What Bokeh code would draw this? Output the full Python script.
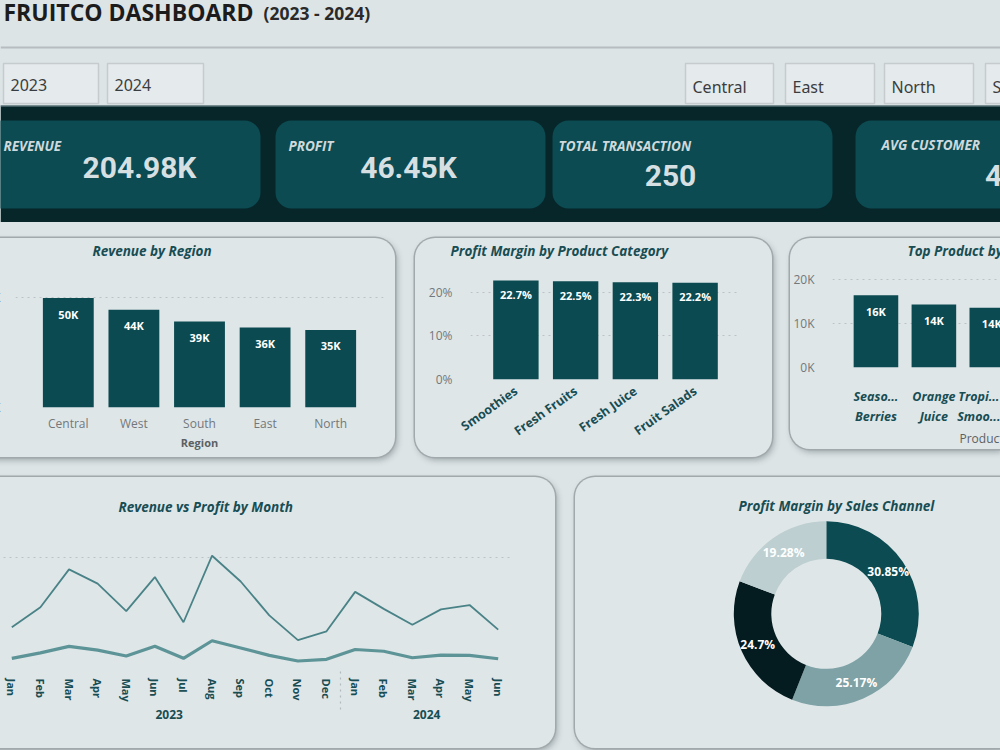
import math

from bokeh.plotting import figure
from bokeh.layouts import column, row
from bokeh.models import (ColumnDataSource, FactorRange, Range1d, FixedTicker,
                          NumeralTickFormatter, CustomJSTickFormatter, Title, Spacer)
from bokeh.core.properties import value
from bokeh.embed import file_html
from bokeh.resources import INLINE

# ---------------------------------------------------------------- data
dashboard_title = "FRUITCO DASHBOARD"
period_label = "(2023 - 2024)"
year_filters = ["2023", "2024"]
region_filters = ["Central", "East", "North", "South"]

kpi_labels = ["REVENUE", "PROFIT", "TOTAL TRANSACTION", "AVG CUSTOMER"]
kpi_values = ["204.98K", "46.45K", "250", "4.0"]

regions = ["Central", "West", "South", "East", "North"]
region_revenue = [49800, 44400, 39100, 36400, 35300]

categories = ["Smoothies", "Fresh Fruits", "Fresh Juice", "Fruit Salads"]
category_margin = [0.227, 0.225, 0.223, 0.222]

products = ["Seasonal Berries", "Orange Juice", "Tropical Smoothie"]
product_revenue = [16400, 14300, 13600]
product_ticks = ["Seaso...\nBerries", "Orange\nJuice", "Tropi...\nSmoo..."]

month_years = ["2023"] * 12 + ["2024"] * 6
month_names = ["Jan", "Feb", "Mar", "Apr", "May", "Jun", "Jul", "Aug", "Sep",
               "Oct", "Nov", "Dec", "Jan", "Feb", "Mar", "Apr", "May", "Jun"]
month_revenue = [7340, 11000, 17900, 15300, 10300, 16500, 8260, 20400, 15700,
                 9500, 5000, 6600, 13800, 10700, 7800, 10600, 11400, 6900]
month_profit = [1670, 2670, 3860, 3160, 2090, 3860, 1670, 4880, 3560,
                2210, 1190, 1500, 3280, 2970, 1780, 2260, 2210, 1600]

channel_margin = [30.85, 25.17, 24.7, 19.28]
channel_colors = ["#0b4b51", "#7ea2a5", "#041c1f", "#bdcfd1"]

# ---------------------------------------------------------------- styling
PAGE_BG = "#dde4e6"
PANEL_BG = "#dfe6e8"
BAND = "#07262a"
CARD = "#0b4b51"
BAR = "#0a4a50"
INK = "#174d53"
GRID = "#bcc3c6"
AXIS_GRAY = "#72787b"

PANEL_CSS = {
    "background-color": PANEL_BG,
    "border-radius": "20px",
    "box-shadow": "0 0 0 1.5px #a2a9ac, 2px 3px 6px rgba(35, 50, 55, 0.35)",
}

k_format = CustomJSTickFormatter(code="return (tick / 1000).toFixed(0) + 'K';")


def panel(width, height, **kw):
    p = figure(width=width, height=height, output_backend="svg",
               toolbar_location=None, **kw)
    p.frame_align = False
    p.border_fill_color = None
    p.background_fill_color = None
    p.outline_line_color = None
    p.styles = dict(PANEL_CSS)
    return p


def set_title(p, text, offset, standoff):
    p.title.text = text
    p.title.align = "left"
    p.title.offset = offset
    p.title.standoff = standoff
    p.title.text_font = "Open Sans"
    p.title.text_font_style = "bold italic"
    p.title.text_font_size = "13.5px"
    p.title.text_color = INK


def plain_axes(p):
    for ax in p.axis:
        ax.axis_line_color = None
        ax.major_tick_line_color = None
        ax.minor_tick_line_color = None
        ax.major_label_text_font = "Open Sans"
        ax.major_label_text_font_size = "12px"
        ax.major_label_text_color = AXIS_GRAY
    p.xgrid.grid_line_color = None
    p.ygrid.grid_line_color = GRID
    p.ygrid.grid_line_dash = "dotted"
    p.ygrid.grid_line_width = 1.2


def bar_labels(p, src, x, y, offset):
    p.text(x=x, y=y, text="label", source=src, y_offset=offset,
           text_align="center", text_baseline="middle", text_color="white",
           text_font=value("Open Sans"), text_font_style="bold",
           text_font_size="11px")


# ---------------------------------------------------------------- header + KPI band
H = 222


def Y(v):
    return H - v


head = figure(width=1000, height=H, x_range=Range1d(0, 1000), y_range=Range1d(0, H),
              output_backend="svg", toolbar_location=None, min_border=0,
              x_axis_location=None, y_axis_location=None)
head.frame_align = False
head.grid.visible = False
head.background_fill_color = PAGE_BG
head.border_fill_color = PAGE_BG
head.outline_line_color = None

head.text(x=[3], y=[Y(11)], text=[dashboard_title], text_font=value("Open Sans"),
          text_font_style="bold", text_font_size="23px", text_color="#1c1c1c",
          text_baseline="middle")
head.text(x=[263], y=[Y(12)], text=[period_label], text_font=value("Open Sans"),
          text_font_style="bold", text_font_size="17.5px", text_color="#2a2a2a",
          text_baseline="middle")
head.segment(x0=[0], y0=[Y(47)], x1=[1000], y1=[Y(47)], line_color="#b6bcbf", line_width=2)

# slicer buttons
box_left = [3, 107, 685, 785, 884, 985]
box_right = [98, 203, 773, 874, 973, 1074]
box_text = year_filters + region_filters
box_y = [84, 84, 86, 86, 86, 86]
head.quad(left=box_left, right=box_right, top=[Y(63)] * 6, bottom=[Y(103)] * 6,
          fill_color="#e5eaec", line_color="#c6ccce", line_width=1.5)
head.text(x=[l + 7 for l in box_left], y=[Y(v) for v in box_y], text=box_text,
          text_font=value("Noto Sans"), text_font_size="16px", text_color="#3a3d3f",
          text_baseline="middle")

# dark KPI band with cards
head.quad(left=[0], right=[1000], top=[Y(105)], bottom=[0], fill_color=BAND, line_color=None)
head.segment(x0=[0], y0=[Y(105.5)], x1=[1000], y1=[Y(105.5)], line_color="#7f9397", line_width=1)
head.quad(left=[-20, 275, 552, 855], right=[260, 545, 832, 1080],
          top=[Y(120)] * 4, bottom=[Y(208)] * 4, fill_color=CARD, line_color=None,
          border_radius=16)
head.text(x=[3, 288, 558, 881], y=[Y(145), Y(145), Y(145), Y(144)], text=kpi_labels,
          text_font=value("Open Sans"), text_font_style="bold italic",
          text_font_size="13.5px", text_color="#cfd9db", text_baseline="middle")
head.text(x=[139, 408, 670, 1006], y=[Y(167), Y(167), Y(175), Y(175)], text=kpi_values,
          text_font=value("Roboto"), text_font_style="bold", text_font_size="30px",
          text_color="#d6dfe1", text_align="center", text_baseline="middle")

# ---------------------------------------------------------------- Revenue by Region
src1 = ColumnDataSource(dict(region=regions, revenue=region_revenue,
                             label=[f"{v / 1000:.0f}K" for v in region_revenue]))
p1 = panel(425, 219,
           x_range=FactorRange(*regions, range_padding=0.305, range_padding_units="absolute"),
           y_range=Range1d(0, 66400),
           min_border_left=45, min_border_right=12, min_border_top=22, min_border_bottom=50)
p1.margin = (0, 0, 0, -30)
set_title(p1, "Revenue by Region", 77, 3)
p1.vbar(x="region", top="revenue", width=0.775, source=src1, fill_color=BAR, line_color=None)
bar_labels(p1, src1, "region", "revenue", 16)
plain_axes(p1)
p1.yaxis.ticker = FixedTicker(ticks=[0, 50000])
p1.yaxis.formatter = k_format
p1.yaxis.major_label_standoff = 9
p1.xaxis.major_label_standoff = 1
p1.xaxis.axis_label = "Region"
p1.xaxis.axis_label_text_font = "Open Sans"
p1.xaxis.axis_label_text_font_size = "11px"
p1.xaxis.axis_label_text_font_style = "bold"
p1.xaxis.axis_label_text_color = "#5b6163"
p1.xaxis.axis_label_standoff = 0

# ---------------------------------------------------------------- Profit Margin by Product Category
src2 = ColumnDataSource(dict(cat=categories, margin=category_margin,
                             label=[f"{v * 100:.1f}%" for v in category_margin]))
p2 = panel(357, 219,
           x_range=FactorRange(*categories, range_padding=0.26, range_padding_units="absolute"),
           y_range=Range1d(0, 0.2705),
           min_border_left=55, min_border_right=32, min_border_top=22, min_border_bottom=78)
set_title(p2, "Profit Margin by Product Category", -20, 3)
p2.vbar(x="cat", top="margin", width=0.76, source=src2, fill_color=BAR, line_color=None)
bar_labels(p2, src2, "cat", "margin", 14)
plain_axes(p2)
p2.yaxis.ticker = FixedTicker(ticks=[0, 0.1, 0.2])
p2.yaxis.formatter = NumeralTickFormatter(format="0%")
p2.yaxis.major_label_standoff = 12
p2.xaxis.major_label_orientation = 0.62
p2.xaxis.major_label_text_font_style = "bold"
p2.xaxis.major_label_text_color = INK
p2.xaxis.major_label_text_font_size = "12.5px"
p2.xaxis.major_label_standoff = 4

# ---------------------------------------------------------------- Top Product by Revenue
xpos = list(range(len(products)))
src3 = ColumnDataSource(dict(x=xpos, revenue=product_revenue, name=products,
                             label=[f"{v / 1000:.0f}K" for v in product_revenue]))
p3 = panel(210, 211, x_range=Range1d(-0.75, 2.15), y_range=Range1d(0, 24100),
           min_border_left=35, min_border_right=0, min_border_top=22, min_border_bottom=82)
p3.styles = dict(PANEL_CSS, **{"border-radius": "20px 0 0 20px"})
set_title(p3, "Top Product by Revenue", 75, 3)
p3.vbar(x="x", top="revenue", width=0.77, source=src3, fill_color=BAR, line_color=None)
bar_labels(p3, src3, "x", "revenue", 16)
plain_axes(p3)
p3.yaxis.ticker = FixedTicker(ticks=[0, 10000, 20000])
p3.yaxis.formatter = k_format
p3.yaxis.major_label_standoff = 12
p3.xaxis.ticker = FixedTicker(ticks=xpos)
p3.xaxis.major_label_overrides = {i: t for i, t in zip(xpos, product_ticks)}
p3.xaxis.major_label_text_font_style = "bold italic"
p3.xaxis.major_label_text_color = INK
p3.xaxis.major_label_text_font_size = "12.5px"
p3.xaxis.major_label_standoff = 14
p3.add_layout(Title(text="Product_Name", align="left", offset=127, standoff=0,
                    text_font="Open Sans", text_font_style="normal",
                    text_font_size="12px", text_color="#5b6163"), "below")

# ---------------------------------------------------------------- Revenue vs Profit by Month
month_factors = list(zip(month_years, month_names))
src4 = ColumnDataSource(dict(month=month_factors, revenue=month_revenue, profit=month_profit))
p4 = panel(575, 271,
           x_range=FactorRange(factors=month_factors, factor_padding=0, group_padding=0,
                               subgroup_padding=0, range_padding=0),
           y_range=Range1d(0, 25000), y_axis_location=None,
           min_border_left=17, min_border_right=43, min_border_top=53, min_border_bottom=81)
p4.margin = (0, 0, 0, -20)
p4.styles = dict(PANEL_CSS, **{"border-radius": "0 20px 20px 0"})
set_title(p4, "Revenue vs Profit by Month", 121, 30)
p4.line(x="month", y="revenue", source=src4, line_color="#4a8387", line_width=1.8)
p4.line(x="month", y="profit", source=src4, line_color="#5d9497", line_width=3.2)
p4.xgrid.grid_line_color = None
p4.ygrid.ticker = FixedTicker(ticks=[0, 20000])
p4.ygrid.grid_line_color = GRID
p4.ygrid.grid_line_dash = "dotted"
p4.ygrid.grid_line_width = 1.2
ax4 = p4.xaxis[0]
ax4.axis_line_color = None
ax4.major_tick_line_color = None
ax4.minor_tick_line_color = None
ax4.major_label_orientation = "vertical"
ax4.major_label_text_font = "Open Sans"
ax4.major_label_text_font_style = "bold"
ax4.major_label_text_font_size = "11px"
ax4.major_label_text_color = INK
ax4.major_label_standoff = 5
ax4.group_text_font = "Open Sans"
ax4.group_text_font_style = "bold"
ax4.group_text_font_size = "12px"
ax4.group_text_color = INK
ax4.separator_line_color = "#b3babd"
ax4.separator_line_dash = "dotted"
ax4.separator_line_width = 1.2

# ---------------------------------------------------------------- Profit Margin by Sales Channel
total = sum(channel_margin)
starts, ends, mids = [], [], []
acc = 0.0
for v in channel_margin:
    a0 = math.pi / 2 - 2 * math.pi * acc / total
    acc += v
    a1 = math.pi / 2 - 2 * math.pi * acc / total
    starts.append(a0)
    ends.append(a1)
    mids.append((a0 + a1) / 2)

r_in, r_out, r_lab = 55, 92.5, 75
src5 = ColumnDataSource(dict(start=starts, end=ends, color=channel_colors,
                             lx=[r_lab * math.cos(m) for m in mids],
                             ly=[r_lab * math.sin(m) for m in mids],
                             label=[f"{v:g}%" for v in channel_margin]))
p5 = panel(425, 271, x_range=Range1d(-250.8, 174.2), y_range=Range1d(-134.7, 96.3),
           x_axis_location=None, y_axis_location=None,
           min_border_left=0, min_border_right=0, min_border_top=40, min_border_bottom=0)
p5.styles = dict(PANEL_CSS, **{"border-radius": "20px 0 0 20px"})
p5.grid.visible = False
set_title(p5, "Profit Margin by Sales Channel", 163, 6)
p5.annular_wedge(x=0, y=0, inner_radius=r_in, outer_radius=r_out, start_angle="start",
                 end_angle="end", direction="clock", fill_color="color", line_color=None,
                 source=src5)
p5.text(x="lx", y="ly", text="label", source=src5, text_align="center",
        text_baseline="middle", text_color="white", text_font=value("Open Sans"),
        text_font_style="bold", text_font_size="12px")

# ---------------------------------------------------------------- page
row_mid = row(p1, Spacer(width=20, height=219), p2, Spacer(width=18, height=219), p3)
row_low = row(p4, Spacer(width=20, height=271), p5)
page = column(head, Spacer(width=1000, height=16), row_mid, Spacer(width=1000, height=20),
              row_low, Spacer(width=1000, height=2),
              styles={"background-color": PAGE_BG})

open("out.html", "w").write(file_html(page, INLINE, title="FruitCo Dashboard"))
